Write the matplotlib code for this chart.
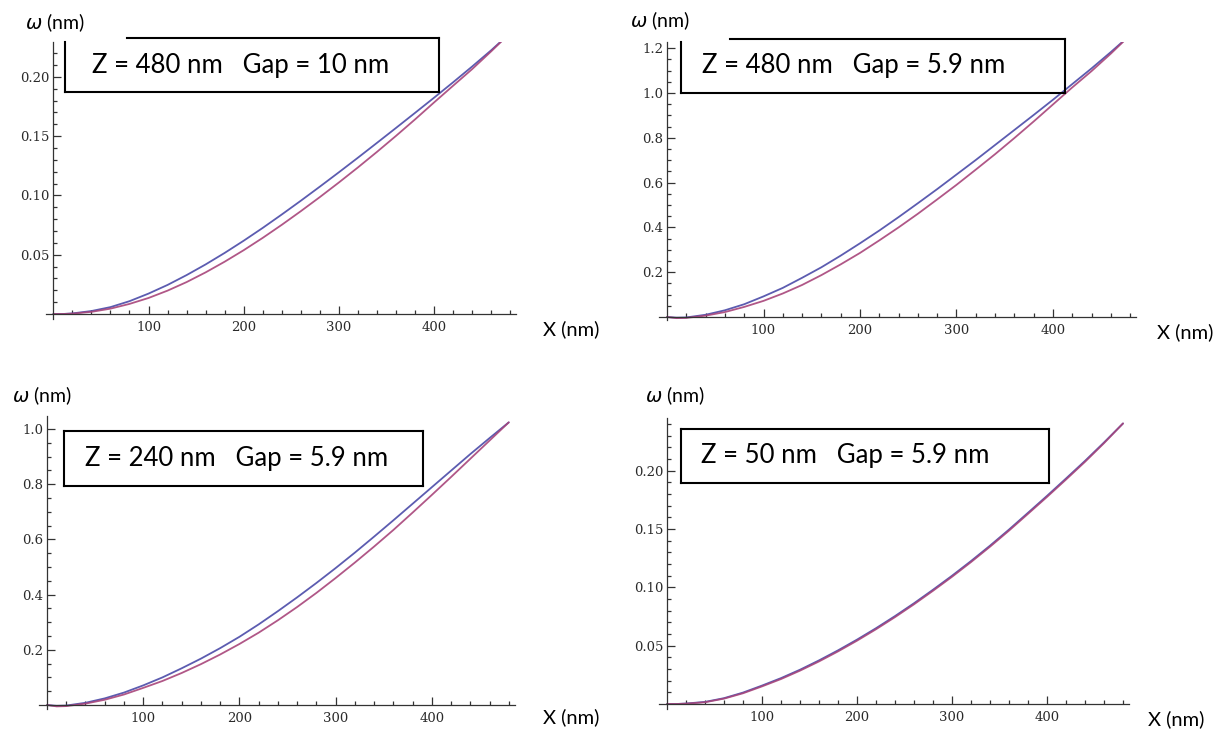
import matplotlib
matplotlib.use("Agg")
import matplotlib.pyplot as plt
from matplotlib.lines import Line2D

# ---------------- data ----------------
X_NM = [0, 10, 20, 40, 60, 80, 100, 120, 140, 160, 180, 200, 220, 240, 260, 280,
        300, 320, 340, 360, 380, 400, 420, 440, 460, 480]

BLUE_1 = [0, 0.0000, 0.0005, 0.0025, 0.0058, 0.0108, 0.0172, 0.0245, 0.0328, 0.0418, 0.0515,
          0.0618, 0.0726, 0.0839, 0.0955, 0.1074, 0.1195, 0.1318, 0.1443, 0.1569, 0.1696,
          0.1824, 0.1954, 0.2087, 0.2224, 0.2370]
RED_1 = [0, 0.0000, 0.0003, 0.0018, 0.0045, 0.0085, 0.0135, 0.0197, 0.0269, 0.0351, 0.0441,
         0.0538, 0.0642, 0.0752, 0.0867, 0.0986, 0.1109, 0.1236, 0.1367, 0.1502, 0.1641,
         0.1784, 0.1925, 0.2065, 0.2215, 0.2370]

BLUE_2 = [0, -0.003, -0.002, 0.010, 0.030, 0.057, 0.092, 0.130, 0.175, 0.222, 0.274,
          0.329, 0.386, 0.446, 0.508, 0.571, 0.636, 0.701, 0.768, 0.835, 0.902,
          0.970, 1.040, 1.110, 1.183, 1.259]
RED_2 = [0, -0.005, -0.004, 0.006, 0.022, 0.045, 0.072, 0.105, 0.143, 0.187, 0.235,
         0.286, 0.342, 0.400, 0.461, 0.525, 0.590, 0.658, 0.727, 0.799, 0.873,
         0.949, 1.025, 1.098, 1.176, 1.259]

BLUE_3 = [0, -0.003, -0.002, 0.008, 0.024, 0.045, 0.071, 0.100, 0.133, 0.168, 0.206,
          0.247, 0.292, 0.340, 0.390, 0.442, 0.496, 0.552, 0.610, 0.669, 0.729,
          0.789, 0.849, 0.909, 0.967, 1.024]
RED_3 = [0, -0.005, -0.004, 0.005, 0.019, 0.038, 0.062, 0.087, 0.116, 0.148, 0.183,
         0.221, 0.262, 0.307, 0.355, 0.406, 0.460, 0.516, 0.574, 0.634, 0.697,
         0.761, 0.826, 0.892, 0.958, 1.024]

BLUE_4 = [0, 0.0000, 0.0004, 0.0018, 0.0050, 0.0098, 0.0158, 0.0222, 0.0294, 0.0374, 0.0460,
          0.0552, 0.0650, 0.0754, 0.0864, 0.0980, 0.1100, 0.1226, 0.1358, 0.1496, 0.1640,
          0.1785, 0.1934, 0.2085, 0.2243, 0.2406]
RED_4 = [0, 0.0000, 0.0003, 0.0015, 0.0046, 0.0092, 0.0151, 0.0214, 0.0286, 0.0365, 0.0451,
         0.0543, 0.0641, 0.0745, 0.0855, 0.0971, 0.1091, 0.1217, 0.1349, 0.1487, 0.1631,
         0.1776, 0.1925, 0.2077, 0.2237, 0.2406]

X_TICKS = [100, 200, 300, 400]
X_TICK_LABELS = ["100", "200", "300", "400"]
Y_TICKS_SMALL = [0.05, 0.10, 0.15, 0.20]
Y_TICK_LABELS_SMALL = ["0.05", "0.10", "0.15", "0.20"]
Y_TICKS_2 = [0.2, 0.4, 0.6, 0.8, 1.0, 1.2]
Y_TICK_LABELS_2 = ["0.2", "0.4", "0.6", "0.8", "1.0", "1.2"]
Y_TICKS_3 = [0.2, 0.4, 0.6, 0.8, 1.0]
Y_TICK_LABELS_3 = ["0.2", "0.4", "0.6", "0.8", "1.0"]

TITLES = ["Z = 480 nm   Gap = 10 nm", "Z = 480 nm   Gap = 5.9 nm",
          "Z = 240 nm   Gap = 5.9 nm", "Z = 50 nm   Gap = 5.9 nm"]
Y_LABEL = r"$\omega$ (nm)"
X_LABEL = "X (nm)"

# ---------------- layout ----------------
W, H = 1222, 730
fig = plt.figure(figsize=(W / 100, H / 100), dpi=100)
fig.patch.set_facecolor("white")

BLUE = "#4a4aa8"
RED = "#a8457a"
AXC = "#333333"
TEXT_FONT = "Lato"


def px2fig(x, y):
    return x / W, 1 - y / H


def make_axes(x0, y0, ppx, ppy, xlim, ylim):
    left = x0 + xlim[0] * ppx
    right = x0 + xlim[1] * ppx
    top = y0 - ylim[1] * ppy
    bottom = y0 - ylim[0] * ppy
    ax = fig.add_axes([left / W, 1 - bottom / H, (right - left) / W, (bottom - top) / H])
    ax.set_xlim(*xlim)
    ax.set_ylim(*ylim)
    ax.patch.set_alpha(0)
    for s in ["top", "right"]:
        ax.spines[s].set_visible(False)
    ax.spines["left"].set_position(("data", 0))
    ax.spines["bottom"].set_position(("data", 0))
    for s in ["left", "bottom"]:
        ax.spines[s].set_color(AXC)
        ax.spines[s].set_linewidth(0.9)
    return ax


panels = [
    dict(x0=53.3, y0=314, ppx=0.952, ppy=1186, ylim=(-0.004, 0.2295),
         yt=Y_TICKS_SMALL, yl=Y_TICK_LABELS_SMALL, ym=0.01, b=BLUE_1, r=RED_1),
    dict(x0=667, y0=317, ppx=0.965, ppy=224, ylim=(-0.015, 1.229),
         yt=Y_TICKS_2, yl=Y_TICK_LABELS_2, ym=0.05, b=BLUE_2, r=RED_2),
    dict(x0=47, y0=705, ppx=0.962, ppy=276, ylim=(-0.015, 1.048),
         yt=Y_TICKS_3, yl=Y_TICK_LABELS_3, ym=0.05, b=BLUE_3, r=RED_3),
    dict(x0=667, y0=704, ppx=0.950, ppy=1166, ylim=(-0.004, 0.245),
         yt=Y_TICKS_SMALL, yl=Y_TICK_LABELS_SMALL, ym=0.01, b=BLUE_4, r=RED_4),
]

for p in panels:
    ax = make_axes(p["x0"], p["y0"], p["ppx"], p["ppy"], (-8, 486), p["ylim"])
    ax.plot(X_NM, p["b"], color=BLUE, lw=1.3, alpha=0.9, solid_capstyle="round",
            solid_joinstyle="round")
    ax.plot(X_NM, p["r"], color=RED, lw=1.3, alpha=0.9, solid_capstyle="round",
            solid_joinstyle="round")
    ax.set_xticks(X_TICKS)
    ax.set_xticklabels(X_TICK_LABELS)
    xminor = [v for v in range(20, 481, 20) if v not in X_TICKS]
    ax.set_xticks(xminor, minor=True)
    ax.set_yticks(p["yt"])
    ax.set_yticklabels(p["yl"])
    n = int(round(p["ylim"][1] / p["ym"]))
    yminor = [round(k * p["ym"], 4) for k in range(1, n + 1)]
    yminor = [v for v in yminor if all(abs(v - t) > 1e-6 for t in p["yt"]) and v <= p["ylim"][1]]
    ax.set_yticks(yminor, minor=True)
    ax.tick_params(which="both", direction="in", color=AXC, width=0.9,
                   labelsize=9.5, labelcolor="#2a2a2a")
    ax.tick_params(which="major", length=5.5)
    ax.tick_params(which="minor", length=3)
    ax.tick_params(axis="x", pad=5)
    ax.tick_params(axis="y", pad=2.5)
    for lab in ax.get_xticklabels() + ax.get_yticklabels():
        lab.set_family("DejaVu Serif")

# axis labels (pixel positions)
ylabel_pos = [(25, 23), (630, 21), (12, 396), (645, 396)]
xlabel_pos = [(543, 329), (1157, 332), (543, 717), (1148, 719)]
for (x, y) in ylabel_pos:
    fx, fy = px2fig(x, y)
    fig.text(fx, fy, Y_LABEL, family=TEXT_FONT, fontsize=14, va="center", ha="left")
for (x, y) in xlabel_pos:
    fx, fy = px2fig(x, y)
    fig.text(fx, fy, X_LABEL, family=TEXT_FONT, fontsize=14.5, va="center", ha="left")

# annotation boxes: (left, right, top, bottom, top-line start, left-line start, text x)
boxes = [
    (65, 439, 38, 92, 127, 42, 92),
    (681, 1065, 39, 93, 730, 42, 702),
    (64, 423, 431, 486, 64, 431, 85),
    (681, 1049, 429, 483, 681, 429, 701),
]
for (bx0, bx1, by0, by1, tstart, lstart, tx), title in zip(boxes, TITLES):
    segs = [((bx0, lstart), (bx0, by1)), ((bx0, by1), (bx1, by1)),
            ((bx1, by1), (bx1, by0)), ((bx1, by0), (tstart, by0))]
    for (a, b) in segs:
        fa = px2fig(*a)
        fb = px2fig(*b)
        fig.add_artist(Line2D([fa[0], fb[0]], [fa[1], fb[1]], color="black",
                              lw=1.5, solid_capstyle="projecting"))
    fx, fy = px2fig(tx, (by0 + by1) / 2)
    fig.text(fx, fy, title, family=TEXT_FONT, fontsize=18.5, va="center", ha="left")

fig.savefig("out.png", dpi=100, facecolor="white")
